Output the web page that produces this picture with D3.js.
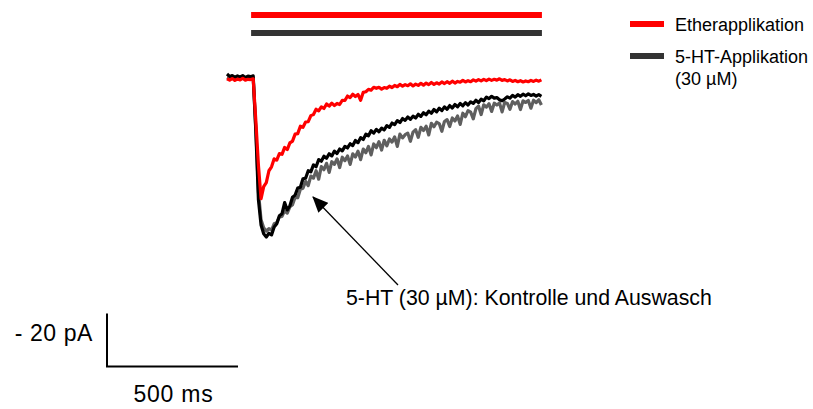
<!DOCTYPE html>
<html><head><meta charset="utf-8">
<script src="https://cdn.jsdelivr.net/npm/d3@7/dist/d3.min.js"></script>
<style>
body{margin:0;background:#fff}
svg{display:block}
text{font-family:"Liberation Sans",Arial,sans-serif;fill:#000}
</style>
</head><body>
<svg id="chart" width="813" height="409"></svg>
<script>
// ---- data (current in pA, sampled every SAMPLE_MS ms) ----
const SAMPLE_MS = 10;

const etherTrace = [
 -0.3,-0.8,-0.2,-0.9,-0.4,-0.7,-0.1,-0.8,-0.5,-0.6,-0.3,
 -16,-33,-45.5,-41,-39.5,-35,-33.5,-30.5,-31,-28.5,
 -28.8,-26.2,-27,-24.5,-23.8,-21.2,-21,-18.2,-18.6,-16.6,
 -16.5,-14.2,-13.8,-11.8,-12.4,-10.9,-11.5,-9.8,-10.6,-9.5,
 -10.4,-9.6,-10,-8.4,-8.5,-6.8,-7.4,-6.1,-7,-6.2,
 -8.4,-5.4,-5.2,-4.3,-4.6,-3.5,-3.9,-3.5,-4.2,-3.6,
 -3.9,-3.1,-3.6,-2.8,-3.3,-2.4,-3.1,-2.5,-2.9,-2.2,
 -3,-2.3,-2.8,-2,-2.7,-1.9,-2.5,-1.7,-2.4,-1.8,
 -2.3,-1.5,-2.1,-1.4,-2,-1.2,-1.9,-1.3,-1.6,-0.9,
 -1.5,-1,-1.4,-0.7,-1.2,-0.6,-1.1,-0.5,-1,-0.4,
 -0.9,-0.5,-0.8,-0.3,-0.9,-0.6,-1.1,-0.7,-1.3,-0.9,
 -1.4,-1,-1.5,-1.1,-1.4,-0.9,-1.3,-0.8,-1.2,-0.7
];

const controlTrace = [
 1.5,0.6,0.9,0.3,0.8,0.4,0.9,0.2,0.7,0.5,0.8,
 -20,-46,-55.5,-58.8,-60,-58.6,-59.2,-56.2,-55,-52,
 -51.2,-47,-49.8,-48.2,-45,-44.2,-41.5,-41.2,-38,-37.8,
 -35,-35.4,-32.8,-33.5,-30.8,-31.4,-29.5,-30.3,-28.6,-29.4,
 -27.6,-28.5,-26.8,-27.5,-25.8,-26.4,-24.8,-25.5,-23.6,-24.4,
 -22.5,-23.2,-21.2,-21.8,-19.9,-20.8,-19.4,-20.3,-18.9,-19.6,
 -18,-18.6,-17,-17.6,-16.1,-16.8,-15.3,-16,-14.7,-15.6,
 -14.4,-15.1,-13.7,-14.5,-13.1,-13.9,-12.5,-13.3,-11.9,-12.8,
 -11.4,-12.3,-10.9,-11.8,-10.4,-11.3,-10,-10.9,-9.6,-10.5,
 -9.3,-10.2,-9,-9.6,-8.4,-9.3,-8,-8.6,-7.2,-7.8,
 -6.9,-7.6,-7.4,-8.2,-8.6,-7.9,-7.1,-7.6,-6.6,-7.2,
 -6.3,-6.9,-6.1,-6.7,-6,-6.6,-6.2,-6.8,-6.3,-6.9
];

const washTrace = [
 0.2,-0.3,0.1,-0.4,0.3,-0.2,0,-0.5,0.1,-0.3,0,
 -19,-43,-53.5,-56.5,-57.8,-56.8,-57.4,-55,-54.6,-52.4,
 -52.2,-50,-51,-48.6,-47.8,-45,-45.2,-42,-41.6,-39,
 -40.6,-37,-37.8,-35,-38.2,-33.4,-34.6,-32.2,-35.6,-31.6,
 -32.6,-30.5,-33.8,-29.9,-31.2,-29.4,-32.6,-28.6,-29.8,-27.6,
 -30.8,-26.8,-28.2,-25.8,-29,-24.9,-26.3,-24,-27.2,-23.5,
 -25.6,-23,-24.2,-22.2,-25.8,-21.2,-22.6,-21.4,-20.8,-23.9,
 -20.4,-19.5,-22.4,-18.6,-19.8,-18.2,-21.5,-17.1,-18.4,-16.7,
 -17.2,-20.1,-16.4,-15.7,-18.3,-15.1,-16.2,-14.3,-17.5,-13.3,
 -14.6,-12.3,-12.9,-15.4,-11.6,-10.6,-13.8,-10.1,-11,-9.7,
 -12.6,-9.5,-10.2,-9.4,-12.8,-9.2,-9.6,-11.8,-8.9,-9.8,
 -8.8,-11.9,-8.6,-9.2,-8.5,-11.4,-8.4,-9.3,-8.2,-10.2
];

// application periods (ms)
const applicationNames = ["Etherapplikation", "5-HT-Applikation"];
const applicationStart = [92, 92];
const applicationEnd = [1202, 1202];

const legendLabels = [["Etherapplikation"], ["5-HT-Applikation", "(30 µM)"]];
const annotationText = "5-HT (30 µM): Kontrolle und Auswasch";
const scaleBarMs = 500;
const scaleBarPA = 20;
const scaleBarLabels = ["- 20 pA", "500 ms"];

// ---- drawing ----
const svg = d3.select("#chart");
const x = d3.scaleLinear().domain([0, 1200]).range([227, 541.4]);
const y = d3.scaleLinear().domain([0, -20]).range([78, 131]);

const line = d3.line()
  .x((d, i) => x(i * SAMPLE_MS))
  .y(d => y(d));

const traces = [
  {data: washTrace, color: "#5f5f5f"},
  {data: controlTrace, color: "#000000"},
  {data: etherTrace, color: "#ff0000"}
];
svg.append("g").selectAll("path").data(traces).join("path")
  .attr("d", d => line(d.data))
  .attr("fill", "none")
  .attr("stroke", d => d.color)
  .attr("stroke-width", 3.2)
  .attr("stroke-linejoin", "round");

// application bars
const barColors = ["#ff0000", "#333333"];
const barY = [15, 33];
svg.append("g").selectAll("line").data(applicationNames).join("line")
  .attr("x1", (d, i) => x(applicationStart[i]))
  .attr("x2", (d, i) => x(applicationEnd[i]))
  .attr("y1", (d, i) => barY[i])
  .attr("y2", (d, i) => barY[i])
  .attr("stroke", (d, i) => barColors[i])
  .attr("stroke-width", 6);

// legend
const lg = svg.append("g");
const legY = [24, 56];
legendLabels.forEach((lines, i) => {
  lg.append("line").attr("x1", 630).attr("x2", 664)
    .attr("y1", legY[i]).attr("y2", legY[i])
    .attr("stroke", barColors[i]).attr("stroke-width", 6);
  const t = lg.append("text").attr("x", 675).attr("y", legY[i] + 7)
    .attr("font-size", 18);
  lines.forEach((s, j) => t.append("tspan").attr("x", 675).attr("dy", j ? 22 : 0).text(s));
});

// annotation arrow
const defs = svg.append("defs");
defs.append("marker").attr("id", "ah").attr("viewBox", "0 0 16 14")
  .attr("refX", 15).attr("refY", 7).attr("markerWidth", 16).attr("markerHeight", 14)
  .attr("markerUnits", "userSpaceOnUse").attr("orient", "auto")
  .append("path").attr("d", "M0,0 L16,7 L0,14 Z").attr("fill", "#000");
svg.append("line").attr("x1", 398).attr("y1", 285).attr("x2", 313).attr("y2", 197)
  .attr("stroke", "#000").attr("stroke-width", 1.3).attr("marker-end", "url(#ah)");
svg.append("text").attr("x", 346).attr("y", 305).attr("font-size", 21.3).text(annotationText);

// scale bar
const sbX = 107, sbY = 366.5;
const sbW = x(scaleBarMs) - x(0);
const sbH = y(-scaleBarPA) - y(0);
svg.append("path")
  .attr("d", `M${sbX},${sbY - sbH} L${sbX},${sbY} L${sbX + sbW},${sbY}`)
  .attr("fill", "none").attr("stroke", "#000").attr("stroke-width", 2);
svg.append("text").attr("x", 93).attr("y", 341).attr("text-anchor", "end")
  .attr("font-size", 23).attr("letter-spacing", 0.6).text(scaleBarLabels[0]);
svg.append("text").attr("x", sbX + sbW / 2 + 1).attr("y", 402).attr("text-anchor", "middle")
  .attr("font-size", 23).attr("letter-spacing", 0.8).text(scaleBarLabels[1]);
</script>
</body></html>
